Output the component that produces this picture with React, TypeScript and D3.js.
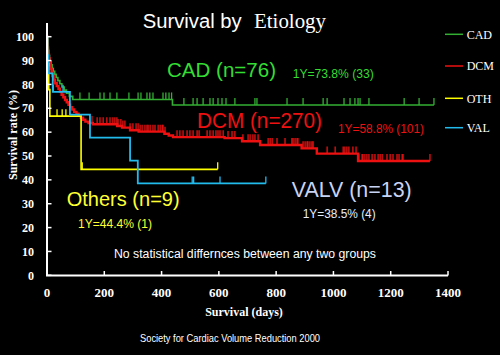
import React from "react";
import * as d3 from "d3";

// ---- data (days, survival %) ----
const xTicks = [0, 200, 400, 600, 800, 1000, 1200, 1400];
const yTicks = [0, 10, 20, 30, 40, 50, 60, 70, 80, 90, 100];

const cadSteps: [number, number][] = [
  [1, 98.7], [2, 97.4], [3, 96.1], [4, 94.7], [5, 93.4], [7, 92.1], [9, 90.8], [11, 89.5],
  [14, 88.2], [18, 86.8], [22, 85.5], [27, 84.2], [32, 82.9], [38, 81.6], [45, 80.3],
  [52, 78.9], [60, 77.6], [68, 76.3], [78, 75.0], [90, 73.7], [438, 71.4],
];
const cadEnd = 1351;
const cadCensor = [115, 147, 185, 199, 220, 244, 286, 318, 328, 349, 359, 370, 405, 415, 426, 435,
  478, 510, 524, 545, 569, 580, 597, 611, 625, 656, 726, 733, 838, 894, 964, 978, 1037, 1058,
  1075, 1086, 1093, 1124, 1247, 1299, 1351];

const dcmSteps: [number, number][] = [
  [1, 98.5], [2, 97], [3, 95.5], [4, 94], [6, 92.5], [7, 91], [9, 89.5], [11, 88], [13, 86.5],
  [16, 85], [19, 83.5], [23, 82], [28, 80.5], [34, 79.3], [40, 78.2], [45, 77], [51, 75.7],
  [57, 74.6], [63, 73.5], [69, 72.5], [75, 71.5], [81, 70.5], [88, 69.5], [95, 68.5],
  [103, 67.7], [110, 66.9], [118, 66], [126, 65.2], [134, 64.4], [145, 63.8], [160, 63.3],
  [245, 62.6], [262, 61.9], [290, 60.8], [320, 60.2], [410, 59.3], [425, 58.6], [440, 57.9],
  [620, 57.5], [681, 56.2], [744, 54.6], [889, 53.2], [942, 51], [1086, 47.9],
];
const dcmEnd = 1337;
const dcmCensor = [157, 175, 185, 196, 209, 220, 230, 237, 244, 248, 258, 265, 272, 290, 300, 311,
  318, 325, 332, 342, 349, 353, 360, 370, 377, 388, 395, 402, 405, 412, 454, 464, 475, 489, 499,
  510, 524, 531, 559, 569, 580, 590, 597, 604, 615, 632, 646, 656, 684, 702, 709, 719, 726, 737,
  772, 779, 786, 803, 831, 855, 859, 866, 873, 876, 894, 901, 908, 911, 918, 925, 929, 978, 1006,
  1034, 1040, 1047, 1054, 1068, 1079, 1089, 1100, 1103, 1110, 1117, 1124, 1135, 1145, 1156, 1163,
  1170, 1187, 1198, 1208, 1222, 1229, 1240, 1243, 1337];

const othSteps: [number, number][] = [[2, 88.9], [6, 77.8], [10, 66.7], [119, 44.4]];
const othEnd = 596;
const othCensor = [35, 53, 66, 123, 596];

const valSteps: [number, number][] = [
  [2, 92.3], [4, 84.6], [20, 76.9], [80, 67.3], [150, 57.7], [290, 48.1], [317, 38.5],
];
const valEnd = 764;
const valCensor = [22, 56, 507, 512, 604, 764];

const legendNames = ["CAD", "DCM", "OTH", "VAL"];
const lineColors = ["#33b033", "#ee1111", "#ffff00", "#22bbee"];

const xS = d3.scaleLinear().domain([0, 1400]).range([47, 448]);
const yS = d3.scaleLinear().domain([0, 100]).range([275.3, 36.7]);

function survAt(steps: [number, number][], t: number) {
  let s = 100;
  for (const [d, v] of steps) if (d <= t) s = v;
  return s;
}

const lineGen = d3
  .line<[number, number]>()
  .x((p) => xS(p[0]))
  .y((p) => yS(p[1]))
  .curve(d3.curveStepAfter);

function Curve({ steps, end, censor, color, width }: any) {
  const pts: [number, number][] = [[0, 100], ...steps, [end, steps[steps.length - 1][1]]];
  return (
    <g>
      <path d={lineGen(pts) || ""} fill="none" stroke={color} strokeWidth={width} />
      {censor.map((c: number, i: number) => {
        const s = survAt(steps, c);
        return (
          <line key={i} x1={xS(c)} x2={xS(c)} y1={yS(s)} y2={yS(s) - 7} stroke={color} strokeWidth={1.3} />
        );
      })}
    </g>
  );
}

const sans = "'Liberation Sans', Arial, sans-serif";
const serif = "'Liberation Serif', 'Times New Roman', serif";

export default function App() {
  return (
    <svg width={500} height={355} style={{ position: "absolute", left: 0, top: 0, background: "#000" }}>
      <rect width={500} height={355} fill="#000" />
      {/* title */}
      <text x={142.7} y={27.5} fill="#fff" fontFamily={sans} fontSize={20} textLength={99} lengthAdjust="spacingAndGlyphs">Survival by</text>
      <text x={254} y={28.3} fill="#fff" fontFamily={serif} fontSize={21.5} textLength={72} lengthAdjust="spacingAndGlyphs">Etiology</text>

      {/* curves */}
      <Curve steps={cadSteps} end={cadEnd} censor={cadCensor} color={lineColors[0]} width={1.6} />
      <Curve steps={dcmSteps} end={dcmEnd} censor={dcmCensor} color={lineColors[1]} width={2.4} />
      <Curve steps={othSteps} end={othEnd} censor={othCensor} color={lineColors[2]} width={1.6} />
      <Curve steps={valSteps} end={valEnd} censor={valCensor} color={lineColors[3]} width={1.8} />

      {/* axes */}
      <line x1={47} x2={47} y1={23} y2={276} stroke="#fff" strokeWidth={2} />
      <line x1={46} x2={448} y1={275.5} y2={275.5} stroke="#fff" strokeWidth={2} />
      {yTicks.map((t) => (
        <g key={"y" + t}>
          <line x1={47} x2={51.5} y1={yS(t)} y2={yS(t)} stroke="#fff" strokeWidth={1.5} />
          <text x={34} y={yS(t) + 4.2} fill="#fff" fontFamily={serif} fontWeight="bold" fontSize={12} textAnchor="end">{t}</text>
        </g>
      ))}
      {xTicks.map((t) => (
        <g key={"x" + t}>
          {t > 0 && <line x1={xS(t)} x2={xS(t)} y1={275.5} y2={271} stroke="#fff" strokeWidth={1.5} />}
          <text x={xS(t)} y={297} fill="#fff" fontFamily={serif} fontWeight="bold" fontSize={13} textAnchor="middle">{t}</text>
        </g>
      ))}
      <text transform="translate(17,135) rotate(-90)" fill="#fff" fontFamily={serif} fontWeight="bold" fontSize={12} textAnchor="middle">Survival rate (%)</text>
      <text x={244} y={316} fill="#fff" fontFamily={serif} fontWeight="bold" fontSize={12} textAnchor="middle">Survival (days)</text>

      {/* legend */}
      {legendNames.map((n, i) => {
        const ly = [34.3, 66, 98.3, 127.7][i];
        return (
          <g key={n}>
            <line x1={445} x2={463} y1={ly} y2={ly} stroke={lineColors[i]} strokeWidth={1.5} />
            <text x={466.7} y={ly + 4.2} fill="#fff" fontFamily={serif} fontSize={12}>{n}</text>
          </g>
        );
      })}

      {/* annotations */}
      <text x={167} y={77.3} fill="#33dd33" fontFamily={sans} fontSize={20} textLength={109} lengthAdjust="spacingAndGlyphs">CAD (n=76)</text>
      <text x={292.7} y={78} fill="#33dd33" fontFamily={sans} fontSize={12.5} textLength={81} lengthAdjust="spacingAndGlyphs">1Y=73.8% (33)</text>
      <text x={197} y={128.3} fill="#ee1111" fontFamily={sans} fontSize={21.5} textLength={125} lengthAdjust="spacingAndGlyphs">DCM (n=270)</text>
      <text x={338} y={133.3} fill="#ee1111" fontFamily={sans} fontSize={12.5} textLength={86} lengthAdjust="spacingAndGlyphs">1Y=58.8% (101)</text>
      <text x={66.7} y={206} fill="#ffff33" fontFamily={sans} fontSize={19.5} textLength={113} lengthAdjust="spacingAndGlyphs">Others (n=9)</text>
      <text x={78} y={228} fill="#ffff33" fontFamily={sans} fontSize={12.5} textLength={74} lengthAdjust="spacingAndGlyphs">1Y=44.4% (1)</text>
      <text x={291.7} y={196.5} fill="#c8d4f4" fontFamily={sans} fontSize={22} textLength={120} lengthAdjust="spacingAndGlyphs">VALV (n=13)</text>
      <text x={302.7} y={218} fill="#e4ecff" fontFamily={sans} fontSize={12.5} textLength={73} lengthAdjust="spacingAndGlyphs">1Y=38.5% (4)</text>
      <text x={114} y={258} fill="#fff" fontFamily={sans} fontSize={12.5} textLength={262} lengthAdjust="spacingAndGlyphs">No statistical differnces between any two groups</text>
      <text x={140} y={342} fill="#fff" fontFamily={sans} fontSize={11.5} textLength={180} lengthAdjust="spacingAndGlyphs">Society for Cardiac Volume Reduction 2000</text>
    </svg>
  );
}
